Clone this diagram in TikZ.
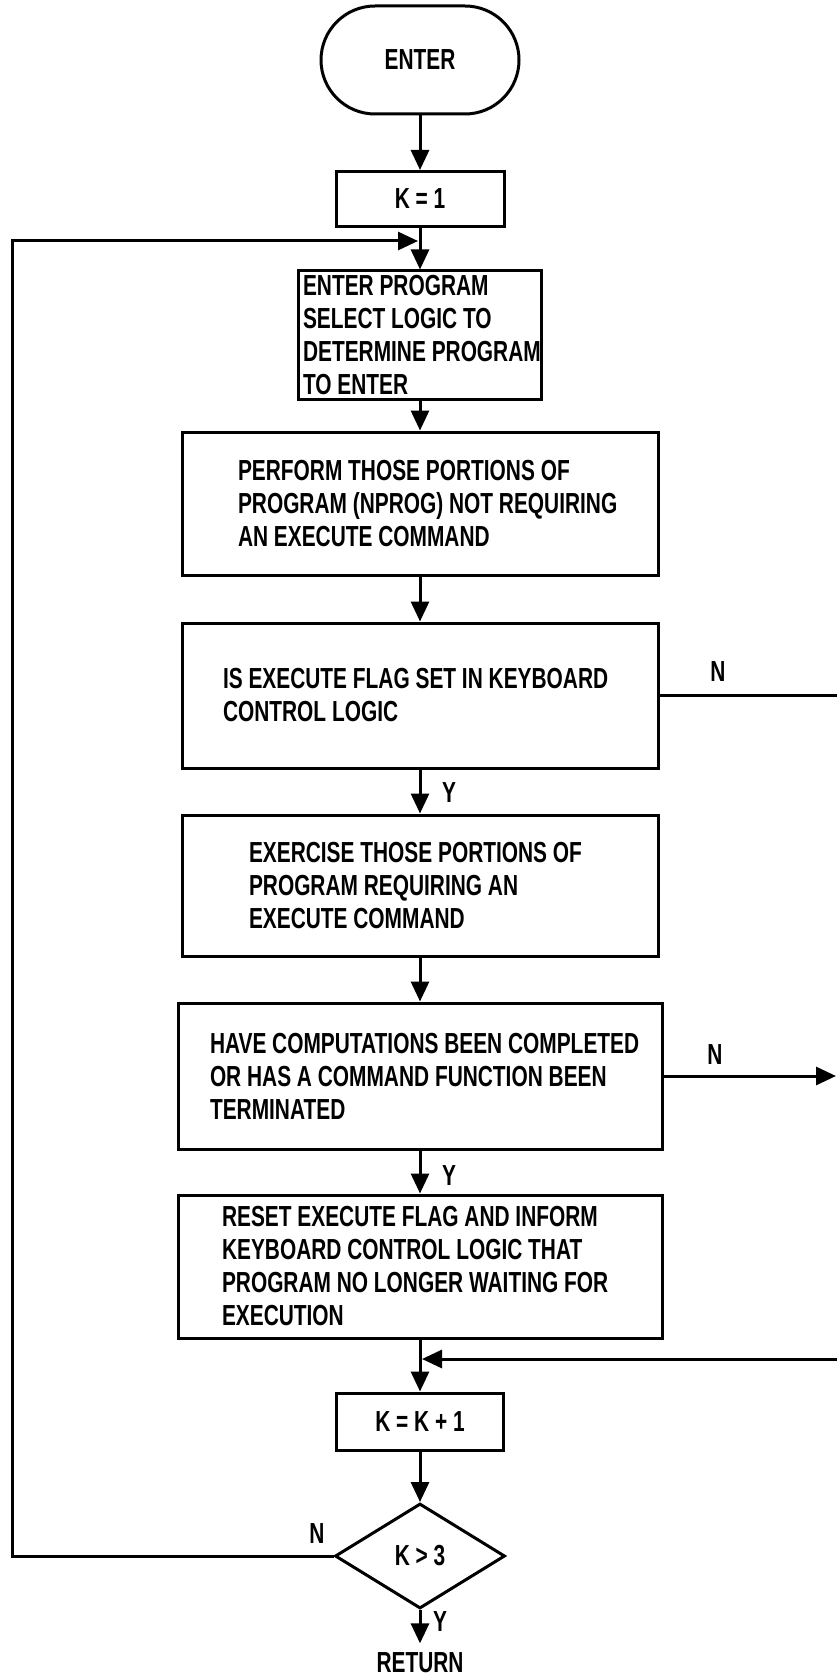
\documentclass[tikz,border=0pt]{standalone}
\usepackage{fontspec}
\newfontfamily\condfont{Liberation Sans}[FakeStretch=0.72]
\usetikzlibrary{arrows.meta,shapes.geometric}
\begin{document}
\begin{tikzpicture}[x=1pt,y=-1pt,
  line width=3pt,
  every node/.style={font=\condfont\bfseries\fontsize{29}{33}\selectfont},
  box/.style={draw, rectangle, inner sep=0pt},
  term/.style={draw, rectangle, rounded corners=54pt, inner sep=0pt},
  dec/.style={draw, diamond, inner sep=0pt},
  txt/.style={anchor=west, align=left, inner sep=0pt},
  lbl/.style={inner sep=0pt},
  arr/.style={-{Triangle[length=20pt,width=18pt]}}
]
\useasboundingbox (0,0) rectangle (837,1677);

% boxes
\node[term, minimum width=198pt, minimum height=108pt] (enter) at (420,60) {ENTER};
\node[box, minimum width=168pt, minimum height=55pt] (k1) at (420,199) {K = 1};
\node[box, minimum width=243pt, minimum height=128pt] (ep) at (419.5,335) {};
\node[txt] (ept) at ([xshift=5pt]ep.west) {ENTER PROGRAM\\SELECT LOGIC TO\\DETERMINE PROGRAM\\TO ENTER};
\node[box, minimum width=476pt, minimum height=143pt] (perf) at (420,503.5) {};
\node[txt] (perft) at ([xshift=56pt]perf.west) {PERFORM THOSE PORTIONS OF\\PROGRAM (NPROG) NOT REQUIRING\\AN EXECUTE COMMAND};
\node[box, minimum width=476pt, minimum height=145pt] (isex) at (420,695.5) {};
\node[txt] (isext) at ([xshift=41pt]isex.west) {IS EXECUTE FLAG SET IN KEYBOARD\\CONTROL LOGIC};
\node[box, minimum width=476pt, minimum height=141pt] (exer) at (420,885.5) {};
\node[txt] (exert) at ([xshift=67pt]exer.west) {EXERCISE THOSE PORTIONS OF\\PROGRAM REQUIRING AN\\EXECUTE COMMAND};
\node[box, minimum width=484pt, minimum height=146pt] (have) at (420,1076) {};
\node[txt] (havet) at ([xshift=32pt]have.west) {HAVE COMPUTATIONS BEEN COMPLETED\\OR HAS A COMMAND FUNCTION BEEN\\TERMINATED};
\node[box, minimum width=484pt, minimum height=143pt] (reset) at (420,1266.5) {};
\node[txt] (resett) at ([xshift=44pt]reset.west) {RESET EXECUTE FLAG AND INFORM\\KEYBOARD CONTROL LOGIC THAT\\PROGRAM NO LONGER WAITING FOR\\EXECUTION};
\node[box, minimum width=167pt, minimum height=57pt] (kk) at (420,1421.5) {K = K + 1};
\node[dec, minimum width=170pt, minimum height=105pt] (dia) at (420,1556) {K > 3};
\node[lbl] (ret) at (420,1663) {RETURN};

% labels
\node[lbl] (n1) at (718,672) {N};
\node[lbl] (n2) at (715,1055) {N};
\node[lbl] (y1) at (449,793) {Y};
\node[lbl] (y2) at (449,1176) {Y};
\node[lbl] (y3) at (440,1622) {Y};
\node[lbl] (n3) at (317,1534) {N};

% coordinates
\coordinate (leftx) at (12,0);
\coordinate (rightx) at (837,0);
\coordinate (loopin) at (418,241);
\coordinate (retR) at (837,1359);
\coordinate (retM) at (422,1359);
\coordinate (n2end) at (836,1076);

% connectors
\draw[arr] (enter) -- (k1);
\draw[arr] (k1.south) -- (k1.south |- ep.north);
\draw[arr] (ep.south -| perf.north) -- (perf.north);
\draw[arr] (perf) -- (isex);
\draw[arr] (isex) -- (exer);
\draw[arr] (exer) -- (have);
\draw[arr] (have) -- (reset);
\draw[arr] (reset) -- (kk);
\draw[arr] (kk) -- (dia);
\draw[arr] (dia.south) -- ([yshift=8pt]ret.north);
\draw (isex.east) -- (isex.east -| rightx);
\draw[arr] (have.east) -- (n2end);
\draw[arr] (retR) -- (retM);
\draw[arr] (dia.west) -- (dia.west -| leftx) -- (leftx |- loopin) -- (loopin);
\end{tikzpicture}
\end{document}
